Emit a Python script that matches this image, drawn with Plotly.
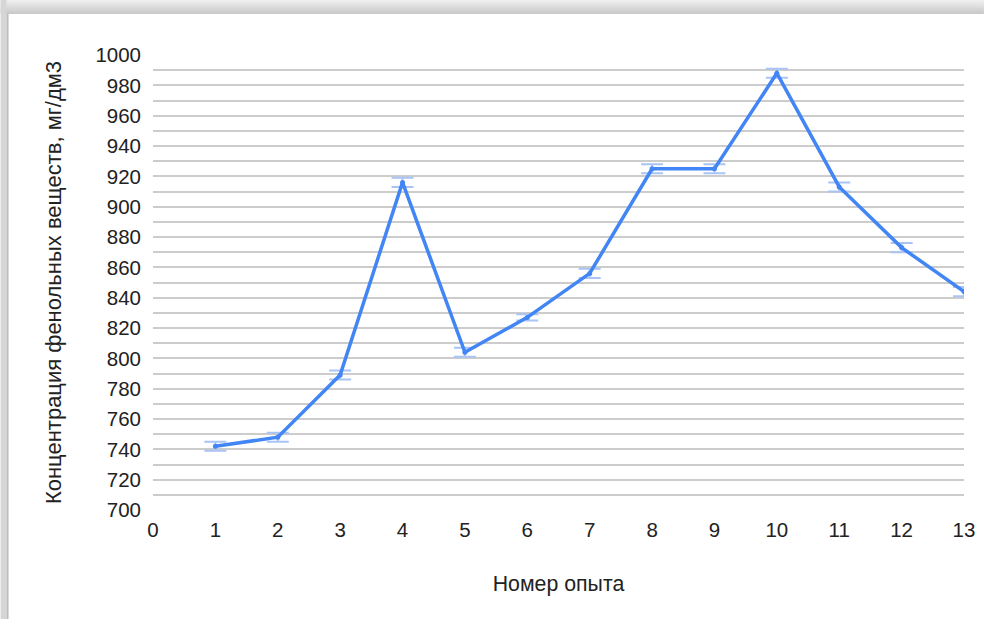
import plotly.graph_objects as go

experiments = list(range(1, 14))
concentration = [742, 748, 789, 916, 804, 827, 856, 925, 925, 988, 913, 873, 844]
errors = [3, 3, 3, 3, 3, 2, 3, 3, 3, 3, 3, 3, 3]
x_ticks = list(range(0, 14))
y_ticks = list(range(700, 1001, 20))

LINE = "#4285F4"
ERR = "#A9C4F5"
FONT = "Liberation Sans, Arial, sans-serif"

fig = go.Figure()
fig.add_trace(go.Scatter(
    x=experiments, y=concentration, mode="lines+markers",
    line=dict(color=LINE, width=3.5),
    marker=dict(color=LINE, size=5),
    error_y=dict(type="data", array=errors, visible=True, color=ERR, thickness=2, width=11),
    showlegend=False,
))

W, H = 987, 619
L, R, T, B = 153, 20, 55, 109
PW, PH = W - L - R, H - T - B
fig.update_layout(
    width=W, height=H,
    margin=dict(l=L, r=R, t=T, b=B),
    paper_bgcolor="white", plot_bgcolor="white",
    font=dict(family=FONT, color="#222222", size=20),
    xaxis=dict(range=[0, 13], tickvals=x_ticks, ticktext=[str(v) for v in x_ticks],
               showgrid=False, zeroline=False, showline=False, ticks="",
               tickfont=dict(size=20.5), ticklabelstandoff=5,
               title=dict(text="Номер опыта", font=dict(size=21.3), standoff=36)),
    yaxis=dict(range=[700, 1000], tickvals=y_ticks, ticktext=[str(v) for v in y_ticks],
               showgrid=True, gridcolor="#cccccc", gridwidth=1.5, zeroline=False,
               showline=False, ticks="", tickfont=dict(size=20.5), ticklabelstandoff=11,
               minor=dict(dtick=10, tick0=700, showgrid=True, gridcolor="#cccccc", gridwidth=1.5),
               title=dict(text="Концентрация фенольных веществ, мг/дм3", font=dict(size=22), standoff=27)),
)

# screenshot frame shadow: top and left gray strips
shades = ["#eeeeee", "#e8e8e8", "#e2e2e2", "#dcdcdc", "#d6d6d6", "#d0d0d0", "#cacaca"]
for i, c in enumerate(shades):
    fig.add_shape(type="rect", xref="paper", yref="paper",
                  x0=-L / PW, x1=1 + R / PW,
                  y0=1 + (T - 2 * (i + 1)) / PH, y1=1 + (T - 2 * i) / PH,
                  fillcolor=c, line_width=0, layer="below")
fig.add_shape(type="rect", xref="paper", yref="paper",
              x0=-L / PW, x1=(6 - L) / PW, y0=-B / PH, y1=1 + T / PH,
              fillcolor="#d6d6d6", line_width=0, layer="below")
fig.add_shape(type="rect", xref="paper", yref="paper",
              x0=(6 - L) / PW, x1=(8 - L) / PW, y0=-B / PH, y1=1 + (T - 14) / PH,
              fillcolor="#bcbcbc", line_width=0, layer="below")

fig.write_html(
    "out.html", config={"displayModeBar": False},
    post_script="document.body.style.margin='0';document.body.style.overflow='hidden';"
                "document.documentElement.style.overflow='hidden';",
)
